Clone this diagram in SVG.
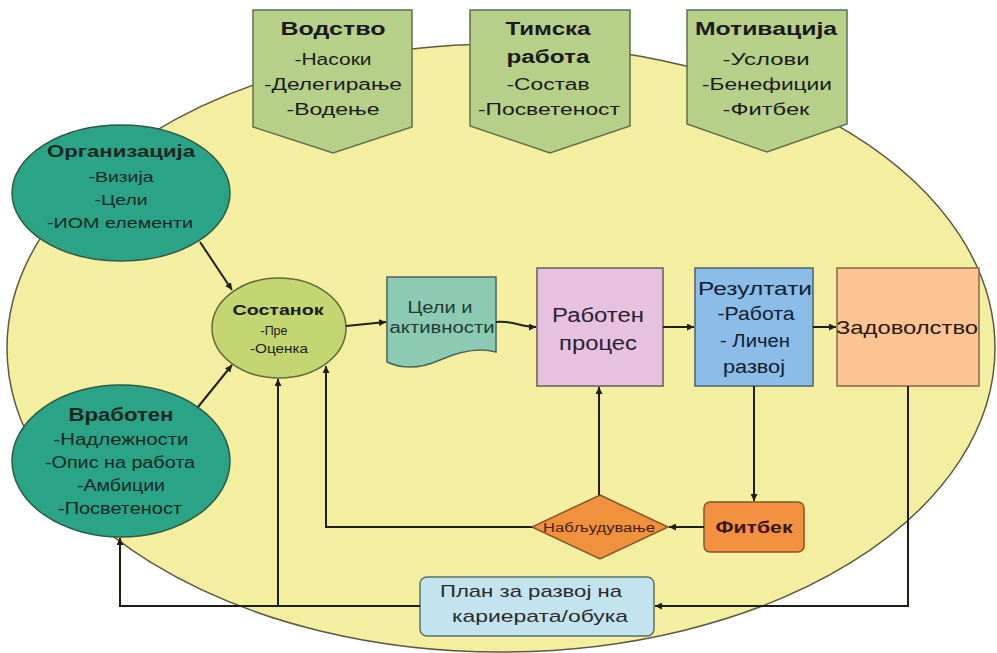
<svg xmlns="http://www.w3.org/2000/svg" width="997" height="653" viewBox="0 0 997 653">
<defs>
<marker id="ah" viewBox="0 0 10 10" refX="10" refY="5" markerWidth="7" markerHeight="7" markerUnits="userSpaceOnUse" orient="auto">
<path d="M0,0 L10,5 L0,10 Z" fill="#1e1e14"/>
</marker>
<style>
text{font-family:"Liberation Sans",Arial,sans-serif;text-anchor:middle;fill:#1a1a1a}
.b{font-weight:bold}
.pent{fill:#b6d08a;stroke:#5e7048;stroke-width:1.5}
.teal{fill:#2ba386;stroke:#2d5a45;stroke-width:1.5}
.tt{fill:#16281e}
.con{fill:none;stroke:#1e1e14;stroke-width:2}
</style>
</defs>
<rect width="997" height="653" fill="#ffffff"/>
<ellipse id="bg" cx="501" cy="348" rx="494" ry="304" fill="#f4efa0" stroke="#5c5a40" stroke-width="1.5"/>

<g id="vodstvo">
<polygon class="pent" points="253,10 412,10 412,127 333,153 253,127"/>
<text class="b" x="333" y="35" font-size="18" textLength="105" lengthAdjust="spacingAndGlyphs">Водство</text>
<text x="333" y="65" font-size="16" textLength="77" lengthAdjust="spacingAndGlyphs">-Насоки</text>
<text x="333" y="90" font-size="16" textLength="138" lengthAdjust="spacingAndGlyphs">-Делегирање</text>
<text x="333" y="115" font-size="16" textLength="93" lengthAdjust="spacingAndGlyphs">-Водење</text>
</g>
<g id="timska">
<polygon class="pent" points="470,10 630,10 630,126 550,153 470,126"/>
<text class="b" x="548" y="35" font-size="18" textLength="85" lengthAdjust="spacingAndGlyphs">Тимска</text>
<text class="b" x="548" y="63" font-size="18" textLength="83" lengthAdjust="spacingAndGlyphs">работа</text>
<text x="548" y="90" font-size="16" textLength="83" lengthAdjust="spacingAndGlyphs">-Состав</text>
<text x="549" y="115" font-size="16" textLength="142" lengthAdjust="spacingAndGlyphs">-Посветеност</text>
</g>
<g id="motivacija">
<polygon class="pent" points="687,10 847,10 847,124 767,152 687,124"/>
<text class="b" x="766" y="35" font-size="18" textLength="142" lengthAdjust="spacingAndGlyphs">Мотивација</text>
<text x="766" y="65" font-size="16" textLength="87" lengthAdjust="spacingAndGlyphs">-Услови</text>
<text x="767" y="90" font-size="16" textLength="130" lengthAdjust="spacingAndGlyphs">-Бенефиции</text>
<text x="766" y="115" font-size="16" textLength="87" lengthAdjust="spacingAndGlyphs">-Фитбек</text>
</g>

<g id="organizacija">
<ellipse class="teal" cx="121" cy="193" rx="109" ry="68"/>
<text class="b tt" x="121" y="157" font-size="17" textLength="148" lengthAdjust="spacingAndGlyphs">Организација</text>
<text class="tt" x="121" y="182" font-size="15" textLength="65" lengthAdjust="spacingAndGlyphs">-Визија</text>
<text class="tt" x="121" y="205" font-size="15" textLength="53" lengthAdjust="spacingAndGlyphs">-Цели</text>
<text class="tt" x="120" y="228" font-size="15" textLength="146" lengthAdjust="spacingAndGlyphs">-ИОМ елементи</text>
</g>
<g id="vraboten">
<ellipse class="teal" cx="121" cy="461" rx="109" ry="76"/>
<text class="b tt" x="121" y="421" font-size="18" textLength="105" lengthAdjust="spacingAndGlyphs">Вработен</text>
<text class="tt" x="121" y="445" font-size="16" textLength="135" lengthAdjust="spacingAndGlyphs">-Надлежности</text>
<text class="tt" x="120" y="468" font-size="16" textLength="150" lengthAdjust="spacingAndGlyphs">-Опис на работа</text>
<text class="tt" x="121" y="491" font-size="16" textLength="88" lengthAdjust="spacingAndGlyphs">-Амбиции</text>
<text class="tt" x="120" y="514" font-size="16" textLength="124" lengthAdjust="spacingAndGlyphs">-Посветеност</text>
</g>
<g id="sostanok">
<ellipse cx="279" cy="328" rx="67" ry="50" fill="#c4d671" stroke="#5e6c34" stroke-width="1.5"/>
<text class="b" x="278" y="315" font-size="15" textLength="91" lengthAdjust="spacingAndGlyphs">Состанок</text>
<text x="274" y="335" font-size="12" textLength="27" lengthAdjust="spacingAndGlyphs">-Пре</text>
<text x="279" y="353" font-size="12" textLength="58" lengthAdjust="spacingAndGlyphs">-Оценка</text>
</g>
<g id="celi">
<path d="M387,277 H496 V352 C478,347 458,352 440,360 C420,369 402,369 387,362 Z" fill="#8ccab4" stroke="#4a6658" stroke-width="1.5"/>
<text x="440" y="313" font-size="16" textLength="65" lengthAdjust="spacingAndGlyphs" style="fill:#1f3a30">Цели и</text>
<text x="442" y="333" font-size="16" textLength="105" lengthAdjust="spacingAndGlyphs" style="fill:#1f3a30">активности</text>
</g>
<g id="raboten">
<rect x="537" y="268" width="126" height="118" fill="#e7c2e0" stroke="#6a5a5a" stroke-width="1.5"/>
<text x="598" y="322" font-size="20" textLength="92" lengthAdjust="spacingAndGlyphs" style="fill:#2a2030">Работен</text>
<text x="598" y="350" font-size="20" textLength="78" lengthAdjust="spacingAndGlyphs" style="fill:#2a2030">процес</text>
</g>
<g id="rezultati">
<rect x="695" y="268" width="118" height="118" fill="#8cbce8" stroke="#4a6272" stroke-width="1.5"/>
<text x="755" y="295" font-size="18" textLength="114" lengthAdjust="spacingAndGlyphs" style="fill:#102030">Резултати</text>
<text x="756" y="320" font-size="18" textLength="77" lengthAdjust="spacingAndGlyphs" style="fill:#102030">-Работа</text>
<text x="755" y="347" font-size="18" textLength="70" lengthAdjust="spacingAndGlyphs" style="fill:#102030">- Личен</text>
<text x="754" y="373" font-size="18" textLength="62" lengthAdjust="spacingAndGlyphs" style="fill:#102030">развој</text>
</g>
<g id="zadovolstvo">
<rect x="837" y="268" width="142" height="118" fill="#fcc492" stroke="#86664a" stroke-width="1.5"/>
<text x="907" y="334" font-size="18" textLength="142" lengthAdjust="spacingAndGlyphs" style="fill:#2a1a10">Задоволство</text>
</g>
<g id="fitbek">
<rect x="704" y="502" width="100" height="50" rx="6" fill="#f29140" stroke="#845428" stroke-width="1.5"/>
<text class="b" x="754" y="533" font-size="17" textLength="77" lengthAdjust="spacingAndGlyphs" style="fill:#3a1408">Фитбек</text>
</g>
<g id="nabljuduvanje">
<polygon points="600,495 668,527 600,559 532,527" fill="#f0913e" stroke="#845428" stroke-width="1.5"/>
<text x="599" y="532" font-size="12" textLength="112" lengthAdjust="spacingAndGlyphs" style="fill:#4a2010">Набљудување</text>
</g>
<g id="plan">
<rect x="420" y="577" width="234" height="59" rx="7" fill="#c3e4ee" stroke="#557466" stroke-width="1.5"/>
<text x="531" y="597" font-size="17" textLength="182" lengthAdjust="spacingAndGlyphs" style="fill:#2a2a2a">План за развој на</text>
<text x="540" y="622" font-size="17" textLength="176" lengthAdjust="spacingAndGlyphs" style="fill:#2a2a2a">кариерата/обука</text>
</g>

<g id="connectors" class="con">
<line x1="200" y1="242" x2="232" y2="290" marker-end="url(#ah)"/>
<line x1="198" y1="407" x2="232" y2="365" marker-end="url(#ah)"/>
<line x1="346" y1="326" x2="386" y2="322" marker-end="url(#ah)"/>
<path d="M496,322 C512,320 520,327 536,327" marker-end="url(#ah)"/>
<line x1="663" y1="327" x2="694" y2="327" marker-end="url(#ah)"/>
<line x1="813" y1="327" x2="836" y2="327" marker-end="url(#ah)"/>
<line x1="754" y1="386" x2="754" y2="501" marker-end="url(#ah)"/>
<line x1="704" y1="527" x2="669" y2="527" marker-end="url(#ah)"/>
<line x1="599" y1="495" x2="599" y2="387" marker-end="url(#ah)"/>
<polyline points="532,527 326,527 326,366" marker-end="url(#ah)"/>
<polyline points="908,386 908,606 655,606" marker-end="url(#ah)"/>
<polyline points="420,606 120,606 120,538" marker-end="url(#ah)"/>
<line x1="278" y1="606" x2="278" y2="379" marker-end="url(#ah)"/>
</g>
</svg>
